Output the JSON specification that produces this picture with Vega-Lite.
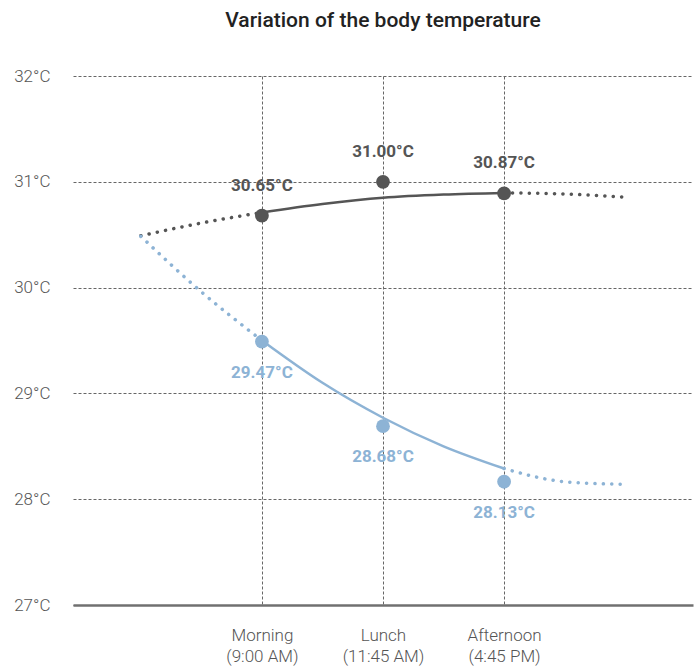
{
  "$schema": "https://vega.github.io/schema/vega-lite/v6.json",
  "width": 620,
  "height": 529,
  "autosize": {"type": "none"},
  "padding": {"left": 73, "top": 76, "right": 6, "bottom": 62},
  "background": "white",
  "title": {
    "text": "Variation of the body temperature",
    "font": "Roboto",
    "fontSize": 21,
    "fontWeight": 500,
    "color": "#222222",
    "anchor": "middle",
    "baseline": "alphabetic",
    "offset": 19
  },
  "config": {"view": {"stroke": null}},
  "datasets": {
    "points": [
      {"series": "A", "x": 1, "temp": 30.68, "label": "30.65°C"},
      {"series": "A", "x": 2, "temp": 31.0, "label": "31.00°C"},
      {"series": "A", "x": 3, "temp": 30.89, "label": "30.87°C"},
      {"series": "B", "x": 1, "temp": 29.49, "label": "29.47°C"},
      {"series": "B", "x": 2, "temp": 28.69, "label": "28.68°C"},
      {"series": "B", "x": 3, "temp": 28.165, "label": "28.13°C"}
    ],
    "curves": [
      {"series": "A", "part": "pre", "x": 0, "temp": 30.49},
      {"series": "A", "part": "pre", "x": 0.5, "temp": 30.61},
      {"series": "A", "part": "pre", "x": 1, "temp": 30.71},
      {"series": "A", "part": "fit", "x": 1, "temp": 30.71},
      {"series": "A", "part": "fit", "x": 1.5, "temp": 30.79},
      {"series": "A", "part": "fit", "x": 2, "temp": 30.85},
      {"series": "A", "part": "fit", "x": 2.5, "temp": 30.88},
      {"series": "A", "part": "fit", "x": 3, "temp": 30.895},
      {"series": "A", "part": "post", "x": 3, "temp": 30.895},
      {"series": "A", "part": "post", "x": 3.5, "temp": 30.885},
      {"series": "A", "part": "post", "x": 4, "temp": 30.855},
      {"series": "B", "part": "pre", "x": 0, "temp": 30.485},
      {"series": "B", "part": "pre", "x": 0.5, "temp": 29.96},
      {"series": "B", "part": "pre", "x": 1, "temp": 29.5},
      {"series": "B", "part": "fit", "x": 1, "temp": 29.5},
      {"series": "B", "part": "fit", "x": 1.5, "temp": 29.1},
      {"series": "B", "part": "fit", "x": 2, "temp": 28.77},
      {"series": "B", "part": "fit", "x": 2.5, "temp": 28.5},
      {"series": "B", "part": "fit", "x": 3, "temp": 28.29},
      {"series": "B", "part": "post", "x": 3, "temp": 28.29},
      {"series": "B", "part": "post", "x": 3.5, "temp": 28.165},
      {"series": "B", "part": "post", "x": 4, "temp": 28.14}
    ]
  },
  "encoding": {
    "x": {
      "field": "x",
      "type": "quantitative",
      "scale": {"domain": [-0.56, 4.56], "nice": false, "zero": false},
      "axis": {
        "title": null,
        "values": [1, 2, 3],
        "labelExpr": "datum.value == 1 ? ['Morning', '(9:00 AM)'] : datum.value == 2 ? ['Lunch', '(11:45 AM)'] : ['Afternoon', '(4:45 PM)']",
        "labelFont": "Roboto",
        "labelFontSize": 17,
        "labelFontWeight": 300,
        "labelColor": "#555555",
        "labelPadding": 22,
        "labelLineHeight": 21,
        "ticks": false,
        "domain": true,
        "domainColor": "#707070",
        "domainWidth": 2.5,
        "grid": true,
        "gridDash": [3, 2],
        "gridColor": "#666666",
        "gridWidth": 1
      }
    },
    "y": {
      "field": "temp",
      "type": "quantitative",
      "scale": {"domain": [27, 32], "nice": false, "zero": false},
      "axis": {
        "title": null,
        "values": [27, 28, 29, 30, 31, 32],
        "labelExpr": "datum.value + '°C'",
        "labelFont": "Roboto",
        "labelFontSize": 17,
        "labelFontWeight": 300,
        "labelColor": "#555555",
        "labelPadding": 23,
        "ticks": false,
        "domain": false,
        "grid": true,
        "gridDash": [3, 2],
        "gridColor": "#666666",
        "gridWidth": 1
      }
    },
    "color": {
      "field": "series",
      "type": "nominal",
      "scale": {"domain": ["A", "B"], "range": ["#555555", "#8DB3D5"]},
      "legend": null
    }
  },
  "layer": [
    {
      "data": {"name": "curves"},
      "transform": [{"filter": "datum.part != 'fit'"}],
      "mark": {"type": "line", "interpolate": "monotone", "strokeWidth": 3.5, "strokeDash": [0.1, 8.3], "strokeCap": "round"},
      "encoding": {"detail": {"field": "part"}}
    },
    {
      "data": {"name": "curves"},
      "transform": [{"filter": "datum.part == 'fit'"}],
      "mark": {"type": "line", "interpolate": "monotone", "strokeWidth": 2.5},
      "encoding": {"detail": {"field": "part"}}
    },
    {
      "data": {"name": "points"},
      "mark": {"type": "circle", "size": 190, "opacity": 1}
    },
    {
      "data": {"name": "points"},
      "transform": [{"filter": "datum.series == 'A'"}],
      "mark": {"type": "text", "font": "Roboto", "fontSize": 17, "fontWeight": "bold", "dy": -30, "baseline": "middle"},
      "encoding": {"text": {"field": "label"}}
    },
    {
      "data": {"name": "points"},
      "transform": [{"filter": "datum.series == 'B'"}],
      "mark": {"type": "text", "font": "Roboto", "fontSize": 17, "fontWeight": "bold", "dy": 31, "baseline": "middle"},
      "encoding": {"text": {"field": "label"}}
    }
  ]
}
